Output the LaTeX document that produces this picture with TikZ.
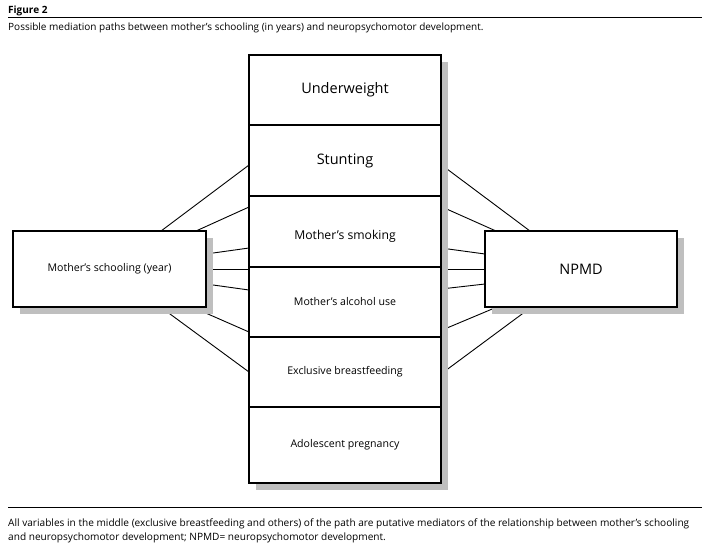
\documentclass[tikz,border=0pt]{standalone}
\usepackage{fontspec}
\setmainfont{Open Sans}
\usetikzlibrary{positioning,shadows,backgrounds}

\tikzset{
  box/.style={draw, line width=1.3pt, fill=white, minimum width=192pt, inner sep=0pt, outer sep=0pt,
    align=center, drop shadow={shadow xshift=6.5pt, shadow yshift=-6.5pt, fill=black!25, opacity=1}},
  link/.style={line width=0.9pt},
  big/.style={font=\fontsize{14.5}{17}\selectfont},
  mid/.style={font=\fontsize{12.2}{14}\selectfont},
  small/.style={font=\fontsize{10.6}{13}\selectfont}
}

\begin{document}
\begin{tikzpicture}[x=1pt,y=-1pt]
  \useasboundingbox (0,0) rectangle (710,547);

  % heading and notes
  \node[anchor=base west, inner sep=0pt, font=\bfseries\fontsize{10}{11}\selectfont] (fig) at (8,13) {Figure 2};
  \draw[line width=0.8pt] (8,17) -- (702,17);
  \node[anchor=base west, inner sep=0pt, font=\fontsize{10}{11}\selectfont] (cap) at (8,30)
    {Possible mediation paths between mother’s schooling (in years) and neuropsychomotor development.};
  \draw[line width=0.8pt] (8,507) -- (702,507);
  \node[anchor=base west, inner sep=0pt, align=left, font=\fontsize{10.1}{14}\selectfont] (note) at (8,540)
    {All variables in the middle (exclusive breastfeeding and others) of the path are putative mediators of the relationship between mother’s schooling\\
     and neuropsychomotor development; NPMD= neuropsychomotor development.};

  % mediators
  \node[box, big, minimum height=70pt] (uw) at (345,90) {Underweight};
  \node[box, big, minimum height=71pt, below=0pt of uw] (st) {Stunting};
  \node[box, mid, minimum height=71pt, below=0pt of st] (sm) {\raisebox{-7.5pt}[0pt][0pt]{Mother’s smoking}};
  \node[box, small, minimum height=70pt, below=0pt of sm] (al) {Mother’s alcohol use};
  \node[box, small, minimum height=70pt, below=0pt of al] (bf) {Exclusive breastfeeding};
  \node[box, small, minimum height=76pt, below=0pt of bf] (ap) {Adolescent pregnancy};

  % exposure and outcome
  \node[box, small, minimum width=193pt, minimum height=76pt] (ms) at (109.5,269) {Mother’s schooling (year)};
  \node[box, big, minimum height=76pt] (np) at (581,269) {NPMD};

  \begin{scope}[on background layer]
    \draw[link] ([xshift=-45pt]ms.north east) -- ([yshift=-4.5pt]st.west);
    \draw[link] ([xshift=-10pt]ms.north east) -- ([yshift=24.5pt]sm.west);
    \draw[link] ([yshift=15pt]ms.east) -- ([yshift=-16.5pt]sm.west);
    \draw[link] (ms.east) -- ([yshift=33pt]al.west);
    \draw[link] ([yshift=-15pt]ms.east) -- ([yshift=12pt]al.west);
    \draw[link] ([xshift=-14pt]ms.south east) -- ([yshift=-30pt]al.west);
    \draw[link] ([xshift=-45.5pt]ms.south east) -- (bf.west);

    \draw[link] ([yshift=-4pt]st.east) -- ([xshift=45pt]np.north west);
    \draw[link] ([yshift=25pt]sm.east) -- ([xshift=11pt]np.north west);
    \draw[link] ([yshift=-16.5pt]sm.east) -- ([yshift=15pt]np.west);
    \draw[link] ([yshift=33pt]al.east) -- (np.west);
    \draw[link] ([yshift=13pt]al.east) -- ([yshift=-15pt]np.west);
    \draw[link] ([yshift=-28.5pt]al.east) -- ([xshift=12pt]np.south west);
    \draw[link] ([yshift=-2pt]bf.east) -- ([xshift=46.5pt]np.south west);
  \end{scope}
\end{tikzpicture}
\end{document}
